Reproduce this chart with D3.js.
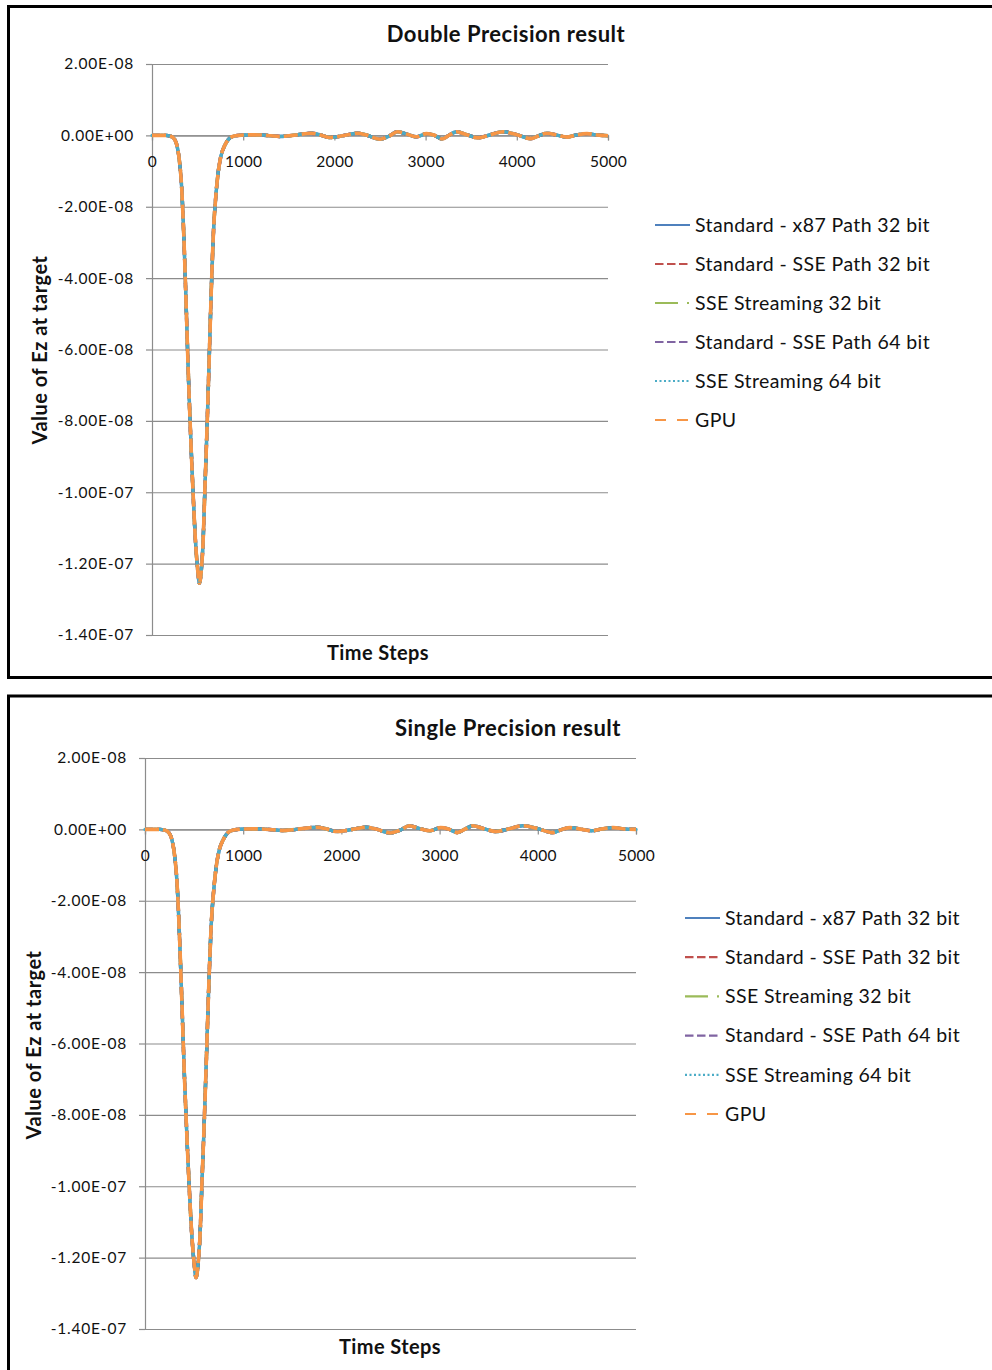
<!DOCTYPE html>
<html><head><meta charset="utf-8">
<script src="https://cdn.jsdelivr.net/npm/d3@7/dist/d3.min.js"></script>
<style>
body{margin:0;background:#fff}
svg{display:block}
text{font-family:Lato,"Open Sans",sans-serif;fill:#111}
</style>
</head><body>
<svg id="c" width="992" height="1370"></svg>
<script>
// ---------- data ----------
const steps = [0,100,150,200,250,275,300,325,350,375,400,425,450,475,500,520,540,560,580,600,625,650,675,700,725,750,800,850,900,950,
  1000,1100,1200,1300,1400,1500,1600,1750,1850,1950,2050,2150,2250,2350,2500,2600,2690,2800,2900,3010,3090,3180,3260,3340,3450,3575,
  3700,3850,4000,4150,4250,4330,4450,4550,4650,4770,4880,5000];
// Ez values in units of 1e-9
const ezDouble = [0,0,0,-0.2,-1.2,-3,-7,-14.5,-29,-48,-68,-85,-100,-113,-121.5,-125.5,-122,-114,-99,-84.5,-64.5,-43.5,-26.5,-17,-10.5,-6.5,-2.7,-0.8,-0.2,0,
  0.1,0.15,0.1,-0.1,-0.3,-0.1,0.2,0.6,0.1,-0.6,-0.3,0.2,0.6,0.1,-1.1,-0.2,1.0,0.3,-0.4,0.5,0.1,-1.0,0.1,1.0,0.2,-0.7,
  0.1,1.0,0.2,-0.9,0.0,0.6,0.0,-0.5,0.1,0.5,0.1,-0.1];
const ezSingle = [0,0,0,-0.2,-1.2,-3,-7,-14.5,-29,-48,-68,-85,-100,-113,-121.5,-125.6,-122,-114,-99,-84.5,-64.5,-43.5,-26.5,-17,-10.5,-6.5,-2.7,-0.8,-0.2,0,
  0.1,0.15,0.1,-0.1,-0.3,-0.1,0.2,0.6,0.1,-0.6,-0.3,0.2,0.6,0.1,-1.0,-0.2,1.0,0.2,-0.4,0.5,0.1,-0.9,0.1,1.0,0.2,-0.6,
  0.1,1.0,0.2,-0.9,0.0,0.5,0.0,-0.4,0.1,0.5,0.1,0.0];
const seriesNames = ["Standard - x87 Path 32 bit","Standard - SSE Path 32 bit","SSE Streaming 32 bit",
  "Standard - SSE Path 64 bit","SSE Streaming 64 bit","GPU"];
const xTicks = [0,1000,2000,3000,4000,5000];
const yTicks = [20,0,-20,-40,-60,-80,-100,-120,-140]; // units of 1e-9
const yTickLabels = ["2.00E-08","0.00E+00","-2.00E-08","-4.00E-08","-6.00E-08","-8.00E-08","-1.00E-07","-1.20E-07","-1.40E-07"];
const chartTitles = ["Double Precision result","Single Precision result"];
const xAxisTitle = "Time Steps";
const yAxisTitle = "Value of Ez at target";

// ---------- styles ----------
const seriesStyle = [
  {color:"#4F81BD", dash:null,        ldash:null},
  {color:"#C0504D", dash:"8,4",       ldash:"8.5,3.5"},
  {color:"#9BBB59", dash:"20,7,2,7",  ldash:"23,9,2,20"},
  {color:"#8064A2", dash:"8,4",       ldash:"8.5,3.5"},
  {color:"#4BACC6", dash:"2,2.5",     ldash:"2,2.5"},
  {color:"#F79646", dash:"14,4",      ldash:"11,11"}
];

const charts = [
  {data: ezDouble, title: chartTitles[0], panelY: 6.5, panelH: 671,
   left:152, right:608, top:64, bottom:635, titleX:506, titleY:42, xtX:378, xtY:660, ytX:47, ytY:350,
   legX:655, legY:225, legStep:39, ylabRight:134},
  {data: ezSingle, title: chartTitles[1], panelY: 696, panelH: 1000,
   left:145, right:636, top:758, bottom:1329, titleX:508, titleY:736, xtX:390, xtY:1354, ytX:41, ytY:1045,
   legX:685, legY:918, legStep:39.2, ylabRight:127}
];

const svg = d3.select("#c");

charts.forEach(c => {
  // panel border
  svg.append("rect").attr("x",8.5).attr("y",c.panelY).attr("width",1100).attr("height",c.panelH)
    .attr("fill","none").attr("stroke","#000").attr("stroke-width",3);

  const x = d3.scaleLinear().domain([0,5000]).range([c.left,c.right]);
  const y = d3.scaleLinear().domain([20,-140]).range([c.top,c.bottom]);
  const g = svg.append("g");

  // gridlines
  g.append("g").attr("transform",`translate(${c.left},0)`)
    .call(d3.axisLeft(y).tickValues(yTicks).tickSize(-(c.right-c.left)).tickFormat(""))
    .call(s=>s.select(".domain").remove())
    .call(s=>s.selectAll("line").attr("stroke","#8c8c8c").attr("stroke-width",1.2));

  // y axis
  const ya = g.append("g").attr("transform",`translate(${c.left},0)`)
    .call(d3.axisLeft(y).tickValues(yTicks).tickSize(6).tickPadding(c.left-c.ylabRight-6)
      .tickFormat((d,i)=>yTickLabels[i]));
  ya.select(".domain").attr("stroke","#8c8c8c").attr("stroke-width",1.2);
  ya.selectAll("line").attr("stroke","#8c8c8c").attr("stroke-width",1.2);
  ya.selectAll("text").attr("font-size",15.5).attr("font-family","Lato").attr("fill","#111")
    .attr("letter-spacing","0.8px");

  // x axis at zero
  const xa = g.append("g").attr("transform",`translate(0,${y(0)})`)
    .call(d3.axisBottom(x).tickValues(xTicks).tickSize(5).tickPadding(16).tickFormat(d3.format("d")));
  xa.select(".domain").attr("stroke","#8c8c8c").attr("stroke-width",1.2);
  xa.selectAll("line").attr("stroke","#8c8c8c").attr("stroke-width",1.2);
  xa.selectAll("text").attr("font-size",15.5).attr("font-family","Lato").attr("fill","#111")
    .attr("letter-spacing","0.3px");

  // series
  const line = d3.line().x((d,i)=>x(steps[i])).y(d=>y(d)).curve(d3.curveMonotoneX);
  seriesNames.forEach((name,k) => {
    const st = seriesStyle[k];
    g.append("path").datum(c.data).attr("d",line).attr("fill","none")
      .attr("stroke",st.color).attr("stroke-width",k===5?3.6:3.4)
      .attr("stroke-dasharray",st.dash).attr("stroke-linecap", k===4?"round":"butt");
  });

  // titles
  svg.append("text").attr("x",c.titleX).attr("y",c.titleY).attr("text-anchor","middle")
    .attr("font-size",22).attr("letter-spacing","0.5px").attr("font-weight","bold").text(c.title);
  svg.append("text").attr("x",c.xtX).attr("y",c.xtY).attr("text-anchor","middle")
    .attr("font-size",20).attr("letter-spacing","0.4px").attr("font-weight","bold").text(xAxisTitle);
  svg.append("text").attr("transform",`translate(${c.ytX},${c.ytY}) rotate(-90)`).attr("text-anchor","middle")
    .attr("font-size",20).attr("letter-spacing","0.5px").attr("font-weight","bold").text(yAxisTitle);

  // legend
  seriesNames.forEach((name,k) => {
    const st = seriesStyle[k];
    const ly = c.legY + k*c.legStep;
    svg.append("line").attr("x1",c.legX).attr("x2",c.legX+35).attr("y1",ly).attr("y2",ly)
      .attr("stroke",st.color).attr("stroke-width",2.2).attr("stroke-dasharray",st.ldash);
    svg.append("text").attr("x",c.legX+40).attr("y",ly).attr("dy","0.35em")
      .attr("font-size",19.5).attr("letter-spacing","0.4px").text(name);
  });
});
</script>
</body></html>
